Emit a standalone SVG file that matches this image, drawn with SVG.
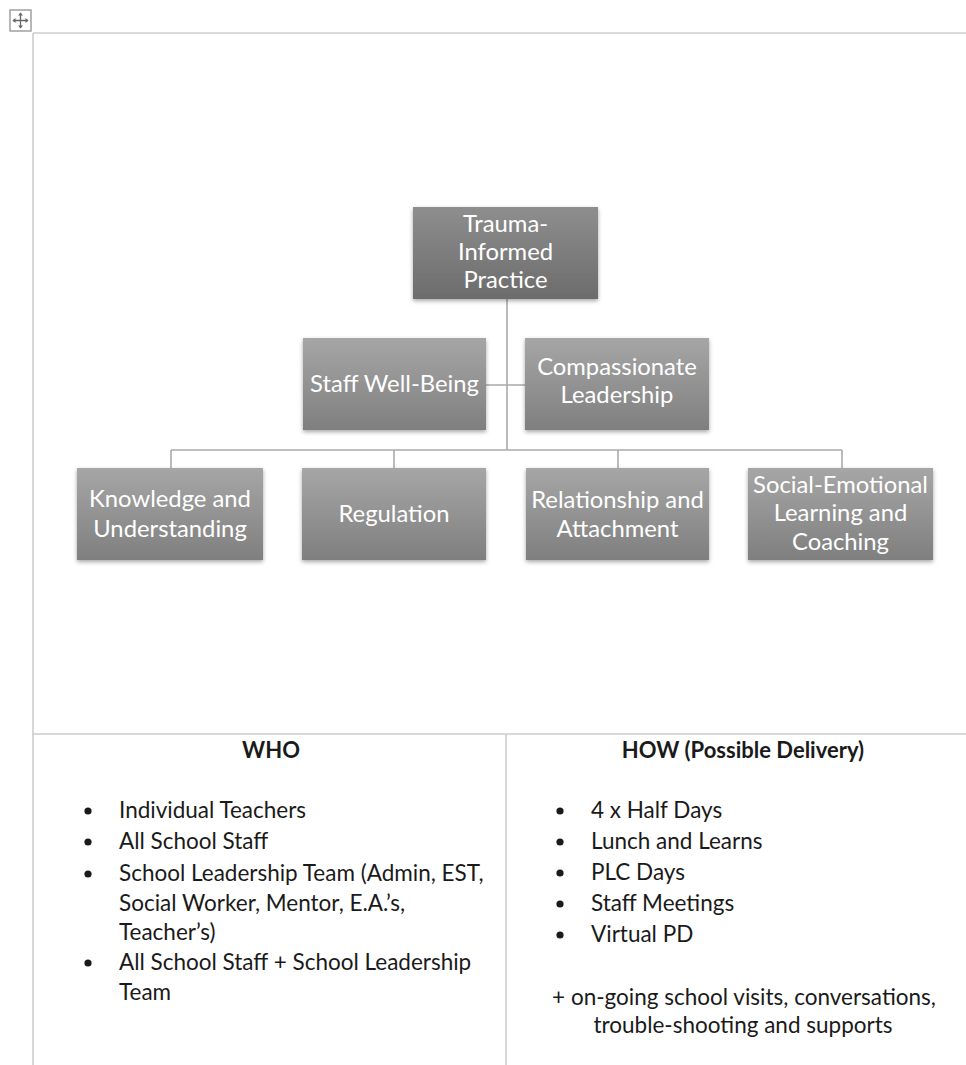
<svg xmlns="http://www.w3.org/2000/svg" width="966" height="1065" viewBox="0 0 966 1065">
<defs>
<linearGradient id="gTop" x1="0" y1="0" x2="0" y2="1">
<stop offset="0" stop-color="#8e8e8e"/>
<stop offset="1" stop-color="#6c6c6c"/>
</linearGradient>
<linearGradient id="gNode" x1="0" y1="0" x2="0" y2="1">
<stop offset="0" stop-color="#a6a6a6"/>
<stop offset="1" stop-color="#7f7f7f"/>
</linearGradient>
<filter id="sh" x="-10%" y="-10%" width="120%" height="130%">
<feDropShadow dx="0" dy="2" stdDeviation="2" flood-color="#000" flood-opacity="0.35"/>
</filter>
</defs>
<style>
.tbl{stroke:#cdcdcd;stroke-width:1.6;fill:none}
.con{stroke:#ababab;stroke-width:1.6;fill:none}
.box{filter:url(#sh)}
.nt{font-family:Lato,"Open Sans",sans-serif;font-size:23.8px;fill:#ffffff;text-anchor:middle}
.bt{font-family:Lato,"Open Sans",sans-serif;font-size:22.5px;fill:#1a1a1a}
.hd{font-family:Lato,"Open Sans",sans-serif;font-size:22px;font-weight:bold;fill:#1a1a1a;text-anchor:middle}
.bul{fill:#1a1a1a}
</style>
<rect width="966" height="1065" fill="#ffffff"/>

<g id="move-handle">
<rect x="10" y="10" width="21" height="21" fill="#ffffff" stroke="#a0a0a0" stroke-width="1.5"/>
<path d="M20.5 13 V28 M13 20.5 H28" stroke="#666" stroke-width="1.3"/>
<path d="M20.5 12.5 l-2.5 3 h5 z M20.5 28.5 l-2.5 -3 h5 z M12.5 20.5 l3 -2.5 v5 z M28.5 20.5 l-3 -2.5 v5 z" fill="#666"/>
</g>

<g id="table">
<path class="tbl" d="M33 33 H966 M33 33 V1065 M33 734 H966 M506 734 V1065"/>
</g>

<g id="connectors">
<path class="con" d="M507 299 V450 M486 385 H525 M171 450 H842 M171 450 V468 M394 450 V468 M618 450 V468 M842 450 V468"/>
</g>

<g id="node-trauma">
<rect class="box" x="413" y="207" width="185" height="92" fill="url(#gTop)"/>
<text class="nt" x="505.5" y="232">Trauma-</text>
<text class="nt" x="505.5" y="260">Informed</text>
<text class="nt" x="505.5" y="288">Practice</text>
</g>

<g id="node-staff">
<rect class="box" x="303" y="338" width="183" height="92" fill="url(#gNode)"/>
<text class="nt" x="394.5" y="392">Staff Well-Being</text>
</g>

<g id="node-compassionate">
<rect class="box" x="525" y="338" width="184" height="92" fill="url(#gNode)"/>
<text class="nt" x="617" y="375">Compassionate</text>
<text class="nt" x="617" y="403">Leadership</text>
</g>

<g id="node-knowledge">
<rect class="box" x="77" y="468" width="186" height="92" fill="url(#gNode)"/>
<text class="nt" x="170" y="507">Knowledge and</text>
<text class="nt" x="170" y="537">Understanding</text>
</g>

<g id="node-regulation">
<rect class="box" x="302" y="468" width="184" height="92" fill="url(#gNode)"/>
<text class="nt" x="394" y="522">Regulation</text>
</g>

<g id="node-relationship">
<rect class="box" x="526" y="468" width="183" height="92" fill="url(#gNode)"/>
<text class="nt" x="617.5" y="508">Relationship and</text>
<text class="nt" x="617.5" y="537">Attachment</text>
</g>

<g id="node-social">
<rect class="box" x="748" y="468" width="185" height="92" fill="url(#gNode)"/>
<text class="nt" x="840.5" y="493">Social-Emotional</text>
<text class="nt" x="840.5" y="521">Learning and</text>
<text class="nt" x="840.5" y="550">Coaching</text>
</g>

<g id="who">
<text class="hd" x="271" y="758">WHO</text>
<circle class="bul" cx="88" cy="811" r="3.6"/>
<text class="bt" x="119" y="818">Individual Teachers</text>
<circle class="bul" cx="88" cy="842" r="3.6"/>
<text class="bt" x="119" y="849">All School Staff</text>
<circle class="bul" cx="88" cy="874" r="3.6"/>
<text class="bt" x="119" y="881">School Leadership Team (Admin, EST,</text>
<text class="bt" x="119" y="911">Social Worker, Mentor, E.A.’s,</text>
<text class="bt" x="119" y="940">Teacher’s)</text>
<circle class="bul" cx="88" cy="963" r="3.6"/>
<text class="bt" x="119" y="970">All School Staff + School Leadership</text>
<text class="bt" x="119" y="1000">Team</text>
</g>

<g id="how">
<text class="hd" x="743" y="758">HOW (Possible Delivery)</text>
<circle class="bul" cx="560" cy="811" r="3.6"/>
<text class="bt" x="591" y="818">4 x Half Days</text>
<circle class="bul" cx="560" cy="842" r="3.6"/>
<text class="bt" x="591" y="849">Lunch and Learns</text>
<circle class="bul" cx="560" cy="873" r="3.6"/>
<text class="bt" x="591" y="880">PLC Days</text>
<circle class="bul" cx="560" cy="904" r="3.6"/>
<text class="bt" x="591" y="911">Staff Meetings</text>
<circle class="bul" cx="560" cy="935" r="3.6"/>
<text class="bt" x="591" y="942">Virtual PD</text>
<text class="bt" x="744" y="1005" text-anchor="middle">+ on-going school visits, conversations,</text>
<text class="bt" x="743" y="1033" text-anchor="middle">trouble-shooting and supports</text>
</g>
</svg>
